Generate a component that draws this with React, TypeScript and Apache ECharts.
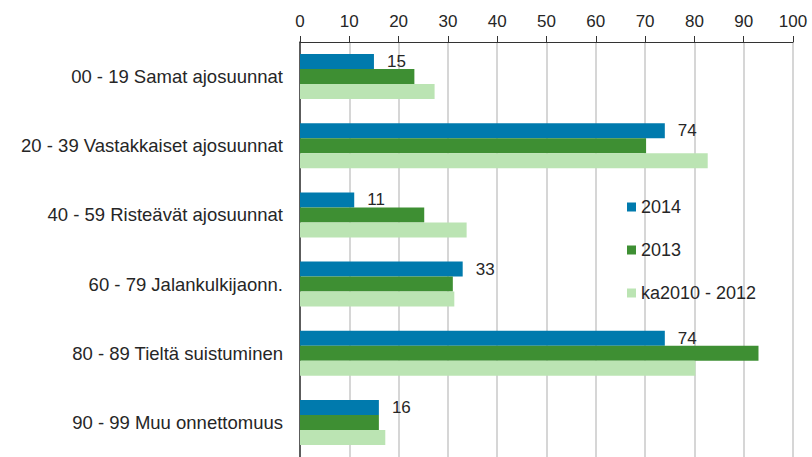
import React, { useEffect, useRef } from "react";
import * as echarts from "echarts";

const categories = [
  "00 - 19 Samat ajosuunnat",
  "20 - 39 Vastakkaiset ajosuunnat",
  "40 - 59 Risteävät ajosuunnat",
  "60 - 79 Jalankulkijaonn.",
  "80 - 89 Tieltä suistuminen",
  "90 - 99 Muu onnettomuus",
];
const seriesNames = ["2014", "2013", "ka2010 - 2012"];
const values2014 = [15, 74, 11, 33, 74, 16];
const values2013 = [23.2, 70.2, 25.2, 31, 93, 16];
const valuesAvg = [27.3, 82.7, 33.8, 31.3, 80.2, 17.3];
const xTicks = { min: 0, max: 100, interval: 10 };

const colors = ["#007aad", "#3e8f33", "#bbe4b3"];
const textColor = "#262626";
const font = "Arial, 'Liberation Sans', sans-serif";

export default function App() {
  const ref = useRef<HTMLDivElement>(null);
  useEffect(() => {
    if (!ref.current) return;
    const chart = echarts.init(ref.current, undefined, { renderer: "svg" });
    const dataSets = [values2014, values2013, valuesAvg];
    chart.setOption({
      animation: false,
      backgroundColor: "#ffffff",
      grid: { left: 300, top: 42, width: 493, height: 428 },
      legend: {
        orient: "vertical",
        left: 622,
        top: 193,
        itemWidth: 9,
        itemHeight: 9,
        itemGap: 25,
        icon: "rect",
        data: seriesNames,
        textStyle: { color: textColor, fontSize: 18, fontFamily: font },
      },
      xAxis: {
        type: "value",
        position: "top",
        min: xTicks.min,
        max: xTicks.max,
        interval: xTicks.interval,
        axisLine: { show: true, lineStyle: { color: "#333333", width: 1 } },
        axisTick: { show: true, length: 6, lineStyle: { color: "#333333" } },
        axisLabel: { color: textColor, fontSize: 17, fontFamily: font, margin: 12 },
        splitLine: { show: true, lineStyle: { color: "#c8c8c8", width: 1.5 } },
      },
      yAxis: {
        type: "category",
        inverse: true,
        data: categories,
        axisLine: { show: true, lineStyle: { color: "#333333", width: 1.5 } },
        axisTick: { show: false },
        axisLabel: { color: textColor, fontSize: 18.5, fontFamily: font, margin: 17 },
      },
      series: seriesNames.map((name, i) => ({
        name,
        type: "bar",
        data: dataSets[i],
        barGap: "0%",
        barCategoryGap: "35%",
        itemStyle: { color: colors[i] },
        label:
          i === 0
            ? {
                show: true,
                position: "right",
                distance: 13,
                color: textColor,
                fontSize: 17,
                fontFamily: font,
              }
            : { show: false },
      })),
    });
    return () => chart.dispose();
  }, []);
  return (
    <div
      ref={ref}
      style={{ position: "absolute", left: 0, top: 0, width: 812, height: 457 }}
    />
  );
}
